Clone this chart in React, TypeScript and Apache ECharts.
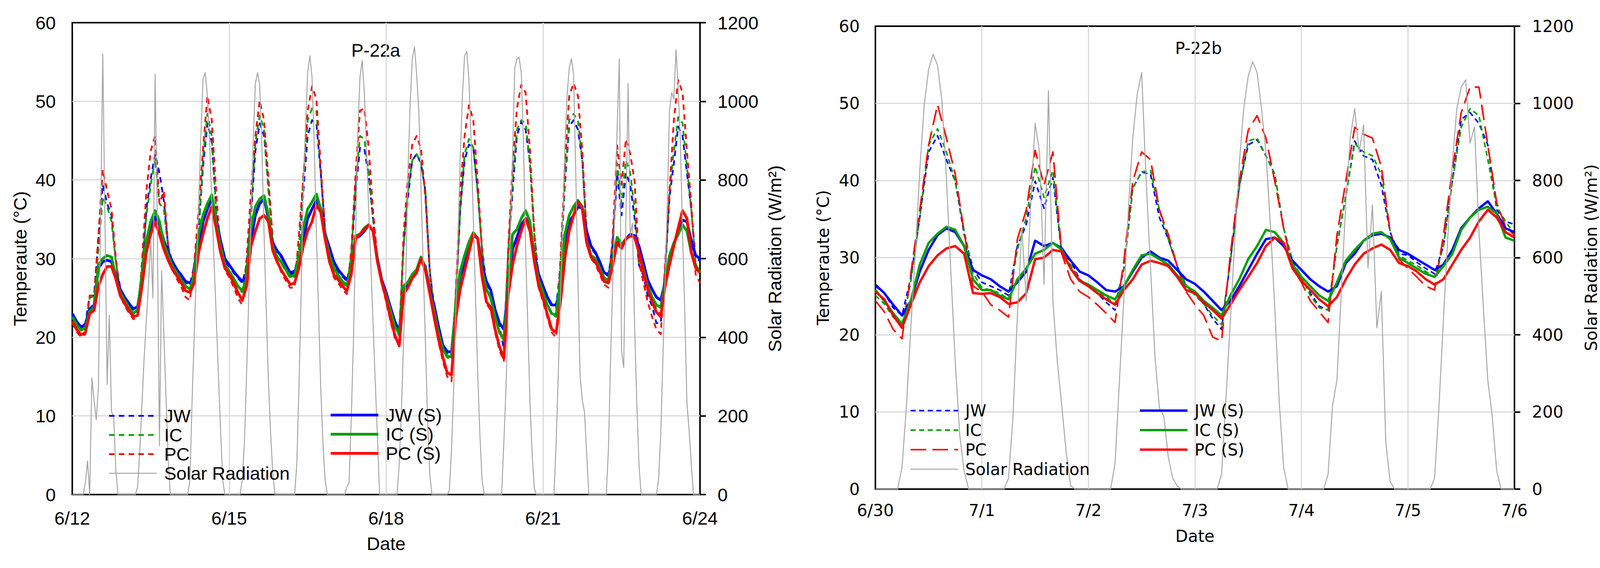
import React, { useEffect, useRef } from "react";
import * as echarts from "echarts";

// ---------------- data ----------------
// x tick labels
const P22A_X_LABELS = ["6/12", "6/15", "6/18", "6/21", "6/24"];
const P22B_X_LABELS = ["6/30", "7/1", "7/2", "7/3", "7/4", "7/5", "7/6"];

// temperatures: one value every 2 hours (0h,2h,...,22h per day), last value = end of period
const P22A_JW = [
  23, 22, 21.3, 21.8, 25.3, 25.3, 32.3, 39.4, 37, 35.5, 29.6, 26.3,
  25, 24.2, 23.5, 24, 28.4, 36.3, 40.2, 43.3, 40.9, 37.4, 31.6, 29.4,
  28.4, 27.7, 26.9, 26.7, 29.2, 33.9, 41.7, 47.2, 44.8, 36.3, 30.8, 29.6,
  29, 28.2, 27.5, 26.9, 29.2, 35.5, 43.7, 47.2, 45.6, 39.4, 32.3, 30.8,
  30.1, 29, 28, 28.2, 31.2, 38.5, 45.6, 47.6, 47.2, 40.9, 33.5, 31.2,
  29.4, 28.4, 27.7, 27.1, 30, 38.6, 44.1, 44, 40.5, 35, 30, 27.1,
  25.5, 23.6, 21.8, 20.6, 31.6, 37.8, 42.5, 43.3, 42.1, 38.6, 28.4, 24,
  21.2, 18.8, 18, 18, 25, 36.3, 42.5, 44.5, 44.1, 38.6, 31.2, 26.8,
  25.8, 23.3, 21.5, 18.5, 30.5, 38.6, 45.6, 47.4, 46.4, 42.1, 33.1, 27.8,
  26.3, 24.9, 23.9, 23.8, 29, 39.4, 46.8, 47.6, 46.4, 42.5, 33.1, 31.3,
  30.6, 29.4, 28, 27.8, 32, 40.9, 35.5, 40.9, 39.4, 35.1, 29.2, 27.8,
  25.3, 24, 21.8, 21.8, 28.5, 37.8, 42.1, 46.8, 45.6, 40.9, 36.3, 30,
  29.7,
];
const P22A_IC = [
  22.6, 21.6, 20.9, 21.4, 25, 25.2, 31.2, 37.8, 36.6, 34.7, 29.6, 25.9,
  24.6, 23.7, 22.9, 23.6, 28.8, 35.5, 39.4, 42.7, 37, 36.3, 31.4, 28.8,
  28, 27.1, 26.3, 25.9, 29, 33.1, 42.9, 48.4, 45.6, 36.3, 30.8, 29,
  28.2, 27.3, 26.3, 25.7, 28.8, 36.3, 44.8, 48.2, 46.4, 38.6, 32, 30.4,
  29.3, 28.4, 27.5, 27.7, 31.5, 40.2, 47.6, 49.1, 48.8, 40.9, 33.3, 30.4,
  28.6, 27.7, 26.9, 26.4, 30.5, 39.4, 45.6, 45.2, 40.9, 35, 30, 27,
  25.1, 23.2, 21.2, 20.2, 31.6, 38.6, 42.5, 43.3, 42.1, 38.6, 28.8, 23.5,
  20.4, 18.3, 17.4, 17.3, 25.5, 36.3, 43.3, 45.2, 44.1, 38.6, 31.2, 26.2,
  24.8, 22.4, 20.4, 19.6, 30.8, 39.8, 46.4, 47.6, 47.2, 42.1, 33.1, 27.4,
  25.5, 23.9, 22.8, 22.6, 29, 40.2, 47.6, 48.4, 47.6, 42.5, 33.1, 30.5,
  29.8, 28.6, 27.3, 27.1, 32, 42.1, 37, 42.5, 40.9, 36.3, 29.2, 28,
  26.3, 24.9, 23.6, 23, 28.5, 38.6, 43.7, 48, 47.2, 41.7, 36.3, 29.2,
  28,
];
const P22A_PC = [
  21.8, 20.7, 20, 20.4, 25.3, 25.3, 33, 41.3, 38.6, 36.3, 30, 25.3,
  24, 23.1, 22.3, 22.5, 29.6, 38.6, 43.7, 45.6, 37, 38.6, 31.6, 28.6,
  27.4, 26.4, 25.1, 24.7, 29.6, 36.3, 44, 50.7, 47.6, 38.6, 30.8, 28.6,
  27.6, 26.4, 25, 24.1, 30, 38.6, 45.6, 50.1, 47.6, 40.2, 32.3, 29.6,
  28.2, 27.2, 26.3, 26.3, 33.1, 40.2, 48.8, 51.9, 50.3, 41.7, 33.5, 29.6,
  27.6, 26.9, 26.1, 25.5, 31, 40.9, 48.8, 49.1, 44.1, 36, 30, 26.8,
  24.5, 22, 19.9, 19.3, 33.1, 40.2, 44.5, 45.6, 44, 37.8, 28.4, 22.3,
  19.4, 17, 15, 14.4, 26, 38.6, 45.6, 49.5, 47.6, 39.8, 31.2, 24.3,
  23.4, 20.6, 18.3, 17, 31.2, 41.7, 49.1, 52.1, 51.1, 43.7, 33.1, 26.3,
  24.5, 22.5, 20.6, 20, 30, 41.7, 50.7, 52.3, 50.7, 43.7, 33.1, 30,
  29.3, 28, 26.7, 26.3, 33.1, 44.4, 39.4, 45.2, 43.3, 39.8, 29.6, 27,
  24.5, 22.6, 21, 20.4, 29.2, 38.6, 47.6, 52.7, 51.1, 43.7, 37, 28,
  26.9,
];
const P22A_JW_S = [
  23, 22, 21.3, 21.6, 23.6, 24.1, 28.8, 29.6, 29.8, 29.6, 28, 26.1,
  25.1, 24.3, 23.6, 23.9, 27.3, 31.6, 33.5, 35.3, 34.3, 32.3, 30.8, 29.6,
  28.6, 27.9, 27.1, 26.9, 27.7, 31.6, 34.7, 36.3, 37.6, 35.1, 32.3, 30,
  29.2, 28.4, 27.7, 27.1, 27.7, 32.3, 35.5, 37, 37.6, 35.1, 32, 31,
  30.3, 29.2, 28.2, 28.4, 29.2, 32.3, 35.1, 36.3, 37.4, 36.4, 33.1, 31.4,
  29.6, 28.6, 27.9, 27.3, 28.5, 32.6, 32.9, 33.5, 34.3, 33.5, 30, 27.3,
  25.7, 23.8, 22, 20.8, 26, 26.7, 27.7, 28.4, 30, 29, 26.1, 24.1,
  21.4, 19, 18.2, 18.1, 24, 27.7, 29.6, 31.4, 32.9, 32.6, 29.2, 27.1,
  26, 23.5, 21.8, 21, 26.1, 31.2, 32.7, 34.3, 35.1, 34.3, 30.4, 28,
  26.5, 25.1, 24.1, 24.1, 26.1, 31.6, 34.7, 35.5, 36.6, 36.4, 33.5, 31.6,
  30.8, 29.6, 28.2, 28, 29.6, 32.3, 31.5, 32.5, 33.1, 32.9, 31.6, 29.5,
  27.3, 26.1, 25.1, 24.7, 27, 30, 31.8, 33.5, 34.9, 34.7, 32.3, 30.4,
  30,
];
const P22A_IC_S = [
  22.6, 21.6, 20.9, 21.2, 23.3, 23.8, 29.2, 30, 30.4, 30.2, 27.6, 25.7,
  24.7, 23.8, 23, 23.5, 28, 32.3, 34.7, 36.1, 34.7, 31.9, 30.4, 29,
  28.2, 27.3, 26.5, 26.1, 28, 33.1, 35.5, 37, 38.1, 34.7, 31.6, 29.2,
  28.4, 27.5, 26.5, 25.9, 27.5, 33.9, 36.6, 37.6, 38, 35.5, 31.5, 30.2,
  29.5, 28.6, 27.7, 27.9, 30, 33.9, 36.3, 37.2, 38.2, 36.3, 32.9, 30.4,
  28.8, 27.9, 27.1, 26.6, 28.8, 32.9, 33.1, 33.9, 34.3, 33.5, 29.8, 27,
  25.3, 23.4, 21.4, 20.4, 26.5, 27, 28, 28.6, 30.2, 28.8, 25.8, 23.4,
  20.6, 18.5, 17.6, 17.5, 24.2, 28.4, 30.4, 32.1, 33.3, 32.6, 28.5, 26.1,
  25, 22.6, 20.6, 19.8, 26.1, 33.1, 33.7, 35.1, 36.1, 34.7, 30, 27.3,
  25.7, 24.1, 23, 22.8, 27.3, 33.1, 35.5, 36.6, 37.4, 36.6, 32.3, 30.4,
  30, 28.8, 27.5, 27.3, 30, 32.7, 31.8, 32.5, 32.9, 32.7, 30.8, 28.7,
  26.5, 25.1, 24.1, 23.8, 27, 30.4, 32, 33.1, 34.3, 33.5, 30.8, 29.2,
  28.2,
];
const P22A_PC_S = [
  22, 21, 20.3, 20.6, 23, 23.4, 26.5, 28, 29, 29, 27.4, 25.3,
  24.3, 23.4, 22.6, 22.8, 26.5, 30.8, 33.1, 34.7, 33.1, 31.2, 29.8, 28.6,
  27.8, 26.9, 25.9, 25.7, 26.9, 30.8, 33.1, 35.1, 36.6, 33.9, 30.8, 28.8,
  28, 26.9, 25.7, 24.7, 26.5, 31.6, 33.5, 35.1, 35.5, 34.7, 31, 29.6,
  28.5, 27.6, 26.7, 26.9, 28.8, 31.6, 33.5, 34.7, 36.8, 35.9, 32.5, 29.6,
  28, 27.3, 26.5, 25.9, 28, 32.5, 33.1, 33.7, 34.3, 33.5, 29.6, 27,
  24.9, 22.4, 20.3, 18.9, 25.5, 26.3, 27.5, 28.2, 30, 28.5, 25.6, 22.6,
  19.8, 17.5, 15.5, 15.2, 22.5, 26.1, 28.4, 30.8, 33.1, 32.6, 27.7, 24.5,
  23.8, 21, 18.8, 17.3, 25.3, 29.2, 31.6, 33.5, 35.1, 33.5, 29.6, 26.5,
  24.9, 22.9, 21, 20.6, 24.5, 30, 33.5, 35.5, 37.2, 36.3, 32, 30.2,
  29.6, 28.4, 27.1, 26.9, 29.2, 32, 31.3, 32.5, 32.9, 32.7, 30.8, 28.3,
  26.1, 24.5, 23.2, 22.6, 26.5, 29.2, 31.6, 33.9, 36.1, 35.1, 30.8, 28.8,
  28.2,
];
// solar radiation: hourly values from 5h to 21h of each day (night hours read as 0)
const P22A_SOLAR = [
  [0, 30, 85, 0, 296, 240, 190, 272, 700, 1120, 700, 280, 456, 210, 200, 60, 0],
  [0, 20, 116, 233, 350, 444, 538, 650, 500, 1069, 700, 124, 569, 410, 250, 90, 0],
  [0, 38, 243, 412, 582, 740, 909, 1057, 1073, 1014, 897, 749, 600, 460, 311, 171, 38],
  [0, 38, 132, 311, 507, 702, 897, 1045, 1073, 1041, 882, 663, 468, 288, 155, 54, 0],
  [0, 0, 77, 272, 507, 780, 936, 1073, 1116, 1061, 897, 663, 468, 272, 132, 38, 0],
  [0, 20, 30, 194, 390, 663, 920, 1061, 1104, 1022, 874, 725, 585, 436, 288, 148, 0],
  [0, 77, 210, 390, 546, 819, 991, 1108, 1139, 1069, 975, 780, 585, 390, 194, 54, 0],
  [10, 116, 272, 468, 663, 858, 1014, 1116, 1127, 1053, 897, 702, 507, 311, 155, 38, 0],
  [0, 132, 272, 468, 663, 858, 1084, 1108, 1112, 1073, 897, 624, 429, 233, 101, 15, 0],
  [0, 132, 311, 507, 702, 882, 1014, 1084, 1108, 1069, 819, 546, 300, 240, 210, 105, 0],
  [0, 116, 350, 546, 741, 936, 1108, 366, 323, 700, 1045, 660, 690, 430, 233, 77, 0],
  [38, 155, 350, 546, 741, 975, 1022, 1006, 1131, 1030, 897, 663, 468, 233, 163, 77, 0],
];

const P22B_JW = [
  26.3, 25.4, 23.5, 22.5, 27.5, 35.2, 43.7, 45.8, 42.7, 39.9, 33, 28.6,
  26.8, 26.3, 25.8, 25.1, 31.5, 34.3, 39.9, 36.4, 40.4, 30.5, 29.6, 27.2,
  26.3, 25.4, 24.2, 23.2, 28.6, 39, 41.1, 40.8, 35.2, 32.4, 28.9, 26.3,
  25.4, 24, 22.1, 20.7, 29.6, 39.4, 44.6, 45.3, 43.2, 40.8, 33.8, 29.6,
  27.5, 25.4, 23.7, 23.2, 31.5, 38, 45.1, 43.2, 42.7, 39.4, 33.3, 30.5,
  30.3, 29.4, 28.6, 27.9, 31.5, 39.9, 47.9, 48.8, 47.4, 44.6, 36.2, 34.7,
  34.3,
];
const P22B_IC = [
  25.1, 24, 22.3, 21.1, 27, 35.2, 44.6, 46.7, 43.7, 39.9, 33.5, 28,
  26.1, 25.8, 25.4, 24.6, 31, 35.2, 41.8, 37.8, 41.3, 30.5, 29.1, 27.2,
  26.3, 25.6, 24.9, 24, 28.6, 39, 41.1, 41.3, 36.2, 32.4, 28.9, 26.5,
  25.1, 24, 22.5, 21.3, 29.6, 39, 45.1, 45.5, 43.2, 40.8, 33.8, 29.6,
  27.5, 25.1, 23.5, 23.2, 31.5, 38, 44.8, 43.7, 43.2, 40.8, 33.3, 30.3,
  29.6, 29, 28.2, 27.5, 31.5, 39.9, 46.9, 49.3, 48.4, 42.7, 36.6, 34.7,
  33,
];
const P22B_PC = [
  24.4, 23, 20.7, 19.5, 28, 36.2, 44.6, 49.8, 45.5, 40.8, 33.3, 26.3,
  25.6, 23.9, 23.2, 22.3, 32.4, 36.2, 43.9, 39.4, 43.7, 30.5, 27.2, 25.6,
  24.9, 23.9, 22.8, 21.6, 29.6, 39.9, 43.7, 42.7, 36.2, 33, 28.9, 25.6,
  23.9, 22.5, 19.7, 19.2, 30.5, 39.9, 46.5, 48.4, 45.5, 39.9, 33.8, 28.6,
  26.8, 24.4, 23, 21.6, 32.9, 39.9, 46.9, 46, 45.5, 41.8, 33.3, 29.8,
  28.6, 27.5, 26.3, 25.8, 32.9, 41.3, 48.8, 52.1, 52.1, 44.6, 37.1, 34,
  32.9,
];
const P22B_JW_S = [
  26.5, 25.4, 23.9, 22.5, 24.4, 28.2, 31, 32.9, 33.8, 33.3, 31.5, 28.4,
  27.7, 27.2, 26.3, 25.6, 26.8, 28.2, 32.2, 31.5, 31.9, 31.2, 29.6, 28.2,
  27.7, 26.8, 25.8, 25.6, 26.3, 28.2, 30, 30.8, 30, 29.6, 28.4, 27.2,
  26.6, 25.6, 24.4, 23.2, 24.4, 26.3, 28.4, 30.5, 32.4, 32.6, 31.5, 29.6,
  28.4, 27.2, 26.3, 25.6, 26.3, 29.3, 30.5, 32.2, 32.9, 33.1, 32.6, 31,
  30.5, 29.8, 29.1, 28.4, 29.1, 31, 33.8, 35.2, 36.4, 37.3, 35.7, 33.8,
  33.3,
];
const P22B_IC_S = [
  25.8, 24.4, 22.8, 21.4, 24.4, 29.1, 31.9, 33.1, 34, 33.6, 31.5, 27.2,
  25.8, 25.8, 25.1, 24.6, 27.2, 28.6, 30.5, 31, 31.9, 31, 28.6, 27,
  26.5, 25.8, 25.1, 24.6, 26.3, 28.4, 30.3, 30.5, 29.8, 29.1, 27.7, 26.3,
  25.6, 24.4, 23.5, 22.5, 25.1, 27.2, 29.8, 31.5, 33.6, 33.3, 31.9, 29.1,
  27.5, 26.3, 25.1, 24.4, 26.8, 29.6, 31, 32.2, 33.1, 33.3, 32.4, 30,
  29.3, 28.6, 27.9, 27.5, 28.9, 30.5, 33.6, 35.2, 36.2, 36.6, 35.7, 32.6,
  32.2,
];
const P22B_PC_S = [
  25.6, 24.6, 22.5, 20.9, 23.9, 26.8, 28.9, 30.3, 31.2, 31.5, 30.5, 25.4,
  25.3, 25.4, 24.9, 24, 24.2, 25.4, 29.8, 30, 31, 30.8, 28.6, 27,
  26.3, 25.4, 24.6, 23.9, 25.8, 27.2, 29.1, 29.6, 29.3, 28.9, 27.5, 25.8,
  25.4, 24.2, 23.2, 22.1, 23.9, 25.8, 27.5, 29.3, 31.5, 32.6, 31.9, 28.6,
  27, 25.8, 24.6, 23.7, 24.9, 27.2, 29.1, 30.5, 31.2, 31.7, 31, 29.3,
  28.9, 28.2, 27.2, 26.5, 27.2, 29.1, 31, 32.6, 34.7, 36.2, 35.2, 33.3,
  32.6,
];
const P22B_SOLAR = [
  [0, 56, 216, 423, 610, 826, 995, 1089, 1127, 1099, 1005, 808, 563, 329, 141, 47, 0],
  [0, 28, 188, 450, 676, 488, 742, 948, 873, 531, 1033, 488, 329, 216, 94, 9, 0],
  [0, 66, 282, 498, 723, 911, 1024, 1080, 803, 573, 343, 211, 188, 83, 28, 8, 0],
  [0, 38, 235, 441, 648, 845, 986, 1070, 1108, 1080, 986, 873, 685, 469, 225, 56, 0],
  [0, 38, 216, 282, 516, 742, 911, 986, 873, 944, 573, 737, 418, 512, 122, 19, 0],
  [0, 28, 216, 441, 657, 845, 986, 1042, 1061, 897, 939, 667, 470, 282, 188, 47, 0],
];

const TEMP_STEP_HOURS = 2;
const SOLAR_FIRST_HOUR = 5;

// ---------------- helpers ----------------
function tempPairs(vals: number[]) {
  return vals.map((v, i) => [(i * TEMP_STEP_HOURS) / 24, v]);
}
function solarPairs(days: number[][]) {
  const out: number[][] = [];
  days.forEach((vals, d) => {
    for (let h = 0; h < 24; h++) {
      const k = h - SOLAR_FIRST_HOUR;
      out.push([d + h / 24, k >= 0 && k < vals.length ? vals[k] : 0]);
    }
  });
  out.push([days.length, 0]);
  return out;
}

const BLUE = "#0000ff";
const GREEN = "#00a000";
const RED = "#ff0000";
const GRAY = "#a6a6a6";
const GRID_C = "#d9d9d9";

type Cfg = {
  title: string;
  titleX: number;
  titleY: number;
  font: string;
  fs: number;
  grid: { left: number; top: number; width: number; height: number };
  xMax: number;
  xInterval: number;
  xLabels: string[];
  xLabelMargin: number;
  xNameGap: number;
  yLabelMargin: number;
  yNameGap: number;
  y2LabelMargin: number;
  y2NameGap: number;
  leg1: { left: number; top: number };
  leg2: { left: number; top: number };
  legLH: number;
  legPad: number;
  dashJW: number[];
  dashIC: number[];
  dashPC: number[];
  dashW: number;
  solidW: number;
  jw: number[];
  ic: number[];
  pc: number[];
  jwS: number[];
  icS: number[];
  pcS: number[];
  solar: number[][];
};

function buildOption(c: Cfg) {
  const text = { color: "#000", fontFamily: c.font, fontSize: c.fs };
  const line = (
    name: string,
    data: number[][],
    color: string,
    width: number,
    type: any,
    yAxisIndex = 0
  ) => ({
    name,
    type: "line",
    data,
    xAxisIndex: 0,
    yAxisIndex,
    symbol: "none",
    showSymbol: false,
    silent: true,
    smooth: false,
    lineStyle: { color, width, type, cap: "butt", join: "round" },
    itemStyle: { color },
    emphasis: { disabled: true },
  });
  const legendBase = {
    orient: "vertical",
    itemWidth: 122,
    itemHeight: 14,
    itemGap: 0,
    padding: 0,
    selectedMode: false,
    itemStyle: { opacity: 0, borderWidth: 0 },
    lineStyle: { width: "inherit", type: "inherit", color: "inherit" },
    textStyle: { ...text, lineHeight: c.legLH, padding: [0, 0, 0, c.legPad] },
  };
  const split = {
    show: true,
    showMinLine: false,
    showMaxLine: false,
    lineStyle: { color: GRID_C, width: 3 },
  };
  return {
    animation: false,
    backgroundColor: "#ffffff",
    textStyle: { fontFamily: c.font },
    grid: {
      ...c.grid,
      show: true,
      borderColor: "#000",
      borderWidth: 4,
      backgroundColor: "transparent",
      containLabel: false,
    },
    xAxis: {
      type: "value",
      min: 0,
      max: c.xMax,
      interval: c.xInterval,
      name: "Date",
      nameLocation: "middle",
      nameGap: c.xNameGap,
      nameTextStyle: text,
      axisLine: { show: false },
      axisTick: { show: false },
      axisLabel: {
        ...text,
        margin: c.xLabelMargin,
        formatter: (v: number) => c.xLabels[Math.round(v / c.xInterval)] ?? "",
      },
      splitLine: split,
    },
    yAxis: [
      {
        type: "value",
        min: 0,
        max: 60,
        interval: 10,
        position: "left",
        name: "Temperaute (°C)",
        nameLocation: "middle",
        nameGap: c.yNameGap,
        nameTextStyle: text,
        axisLine: { show: false },
        axisTick: { show: false },
        axisLabel: { ...text, margin: c.yLabelMargin, formatter: (v: number) => String(v) },
        splitLine: split,
      },
      {
        type: "value",
        min: 0,
        max: 1200,
        interval: 200,
        position: "right",
        name: "Solar Radiation (W/m²)",
        nameLocation: "middle",
        nameGap: c.y2NameGap,
        nameTextStyle: text,
        axisLine: { show: false },
        axisTick: {
          show: true,
          inside: false,
          length: 15,
          lineStyle: { color: "#000", width: 4 },
        },
        axisLabel: { ...text, margin: c.y2LabelMargin, formatter: (v: number) => String(v) },
        splitLine: { show: false },
      },
    ],
    legend: [
      {
        ...legendBase,
        left: c.leg1.left,
        top: c.leg1.top,
        data: ["JW", "IC", "PC", "Solar Radiation"],
      },
      {
        ...legendBase,
        left: c.leg2.left,
        top: c.leg2.top,
        data: ["JW (S)", "IC (S)", "PC (S)"],
      },
    ],
    graphic: [
      {
        type: "text",
        x: c.titleX,
        y: c.titleY,
        silent: true,
        style: {
          text: c.title,
          fill: "#000",
          fontSize: c.fs,
          fontFamily: c.font,
          align: "center",
          verticalAlign: "middle",
        },
      },
    ],
    series: [
      line("JW", tempPairs(c.jw), BLUE, c.dashW, c.dashJW),
      line("IC", tempPairs(c.ic), GREEN, c.dashW, c.dashIC),
      line("PC", tempPairs(c.pc), RED, c.dashW, c.dashPC),
      line("JW (S)", tempPairs(c.jwS), BLUE, c.solidW, "solid"),
      line("IC (S)", tempPairs(c.icS), GREEN, c.solidW, "solid"),
      line("PC (S)", tempPairs(c.pcS), RED, c.solidW, "solid"),
      line("Solar Radiation", solarPairs(c.solar), GRAY, 2.5, "solid", 1),
    ],
  };
}

const LEFT_CFG: Cfg = {
  title: "P-22a",
  titleX: 962,
  titleY: 128,
  font: "'Liberation Sans', Arial, sans-serif",
  fs: 47,
  grid: { left: 185, top: 58, width: 1607, height: 1208 },
  xMax: 12,
  xInterval: 3,
  xLabels: P22A_X_LABELS,
  xLabelMargin: 37,
  xNameGap: 102,
  yLabelMargin: 42,
  yNameGap: 110,
  y2LabelMargin: 45,
  y2NameGap: 168,
  leg1: { left: 277, top: 1040 },
  leg2: { left: 843, top: 1038 },
  legLH: 49,
  legPad: 14,
  dashJW: [14, 11],
  dashIC: [14, 11],
  dashPC: [14, 11],
  dashW: 4.5,
  solidW: 7,
  jw: P22A_JW,
  ic: P22A_IC,
  pc: P22A_PC,
  jwS: P22A_JW_S,
  icS: P22A_IC_S,
  pcS: P22A_PC_S,
  solar: P22A_SOLAR,
};

const RIGHT_CFG: Cfg = {
  title: "P-22b",
  titleX: 1004,
  titleY: 123,
  font: "'DejaVu Sans', Verdana, sans-serif",
  fs: 42,
  grid: { left: 177, top: 67, width: 1636, height: 1185 },
  xMax: 6,
  xInterval: 1,
  xLabels: P22B_X_LABELS,
  xLabelMargin: 33,
  xNameGap: 99,
  yLabelMargin: 40,
  yNameGap: 113,
  y2LabelMargin: 45,
  y2NameGap: 175,
  leg1: { left: 265, top: 1026 },
  leg2: { left: 851, top: 1026 },
  legLH: 50,
  legPad: 13,
  dashJW: [13, 9],
  dashIC: [13, 9],
  dashPC: [40, 16],
  dashW: 4,
  solidW: 6,
  jw: P22B_JW,
  ic: P22B_IC,
  pc: P22B_PC,
  jwS: P22B_JW_S,
  icS: P22B_IC_S,
  pcS: P22B_PC_S,
  solar: P22B_SOLAR,
};

export default function App() {
  const leftRef = useRef<HTMLDivElement>(null);
  const rightRef = useRef<HTMLDivElement>(null);
  useEffect(() => {
    const a = echarts.init(leftRef.current as HTMLDivElement, undefined, { renderer: "svg" });
    a.setOption(buildOption(LEFT_CFG) as any);
    const b = echarts.init(rightRef.current as HTMLDivElement, undefined, { renderer: "svg" });
    b.setOption(buildOption(RIGHT_CFG) as any);
    return () => {
      a.dispose();
      b.dispose();
    };
  }, []);
  return (
    <div
      style={{
        position: "fixed",
        left: 0,
        top: 0,
        width: 4128,
        height: 1454,
        background: "#ffffff",
        overflow: "hidden",
      }}
    >
      <div ref={leftRef} style={{ position: "absolute", left: 0, top: 0, width: 2064, height: 1454 }} />
      <div ref={rightRef} style={{ position: "absolute", left: 2064, top: 0, width: 2064, height: 1454 }} />
    </div>
  );
}
